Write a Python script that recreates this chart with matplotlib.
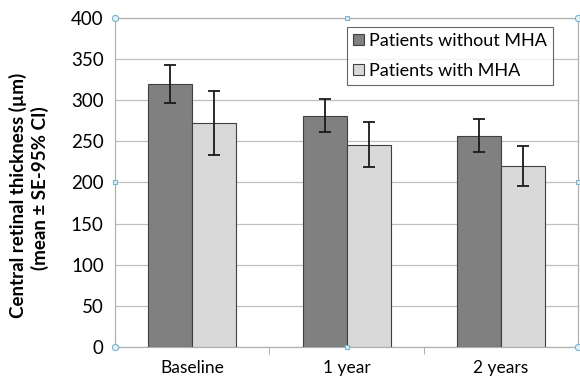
import matplotlib

matplotlib.use('Agg')

import matplotlib.pyplot as plt
import numpy as np


categories = ['Baseline', '1 year', '2 years']
without_mha = [320, 281, 257]
without_mha_err = [23, 20, 20]
with_mha = [272, 246, 220]
with_mha_err = [39, 27, 24]
y_ticks = [0, 50, 100, 150, 200, 250, 300, 350, 400]

plt.rcParams['font.family'] = ['Lato', 'DejaVu Sans']

fig = plt.figure(figsize=(5.8, 3.81), dpi=100)
ax = fig.add_axes([0.198, 0.089, 0.799, 0.864])

x = np.arange(len(categories))
width = 0.285

ax.bar(x - width / 2, without_mha, width, color='#808080', edgecolor='#404040',
       linewidth=0.8, label='Patients without MHA', zorder=3)
ax.bar(x + width / 2, with_mha, width, color='#d9d9d9', edgecolor='#404040',
       linewidth=0.8, label='Patients with MHA', zorder=3)
ax.errorbar(x - width / 2, without_mha, yerr=without_mha_err, fmt='none',
            ecolor='#1a1a1a', elinewidth=1.3, capsize=4, capthick=1.3, zorder=4)
ax.errorbar(x + width / 2, with_mha, yerr=with_mha_err, fmt='none',
            ecolor='#1a1a1a', elinewidth=1.3, capsize=4, capthick=1.3, zorder=4)

ax.set_xlim(-0.5, len(categories) - 0.5)
ax.set_ylim(0, 400)
ax.set_yticks(y_ticks)
ax.set_yticklabels([str(v) for v in y_ticks], fontsize=13.5)
ax.set_xticks(x)
ax.set_xticklabels(categories, fontsize=12.5)
ax.tick_params(axis='x', length=0, pad=9)
ax.tick_params(axis='y', length=0, pad=8)

# category separator ticks below the axis
ax.set_xticks([0.5, 1.5], minor=True)
ax.tick_params(axis='x', which='minor', length=5, color='#a0a0a0', direction='out')

ax.grid(axis='y', color='#c0c0c0', linewidth=0.9, zorder=0)
for side in ['top', 'right', 'left', 'bottom']:
    ax.spines[side].set_color('#b0b0b0')
    ax.spines[side].set_linewidth(0.9)

# selection handles on the plot area
hx = [-0.5, 1.0, 2.5, -0.5, 2.5, -0.5, 1.0, 2.5]
hy = [400, 400, 400, 200, 200, 0, 0, 0]
hm = ['o', 's', 'o', 's', 's', 'o', 's', 'o']
for px, py, m in zip(hx, hy, hm):
    ax.plot(px, py, marker=m, markersize=4.5 if m == 'o' else 3.5,
            markerfacecolor='#dff0f7', markeredgecolor='#7fb2cc',
            markeredgewidth=0.8, clip_on=False, zorder=6)

leg = ax.legend(loc='upper left', bbox_to_anchor=(0.50, 0.973), fontsize=13,
                frameon=True, fancybox=False, handlelength=0.6,
                handleheight=0.6, handletextpad=0.3, labelspacing=0.75,
                borderpad=0.35, borderaxespad=0)
leg.get_frame().set_edgecolor('#404040')
leg.get_frame().set_linewidth(0.8)

fig.text(0.016, 0.487, 'Central retinal thickness (µm)', rotation=90,
         fontsize=13.5, fontweight='bold', ha='left', va='center')
fig.text(0.054, 0.505, '(mean ± SE-95% CI)', rotation=90,
         fontsize=13.5, fontweight='bold', ha='left', va='center')

fig.savefig('out.png', dpi=100)
